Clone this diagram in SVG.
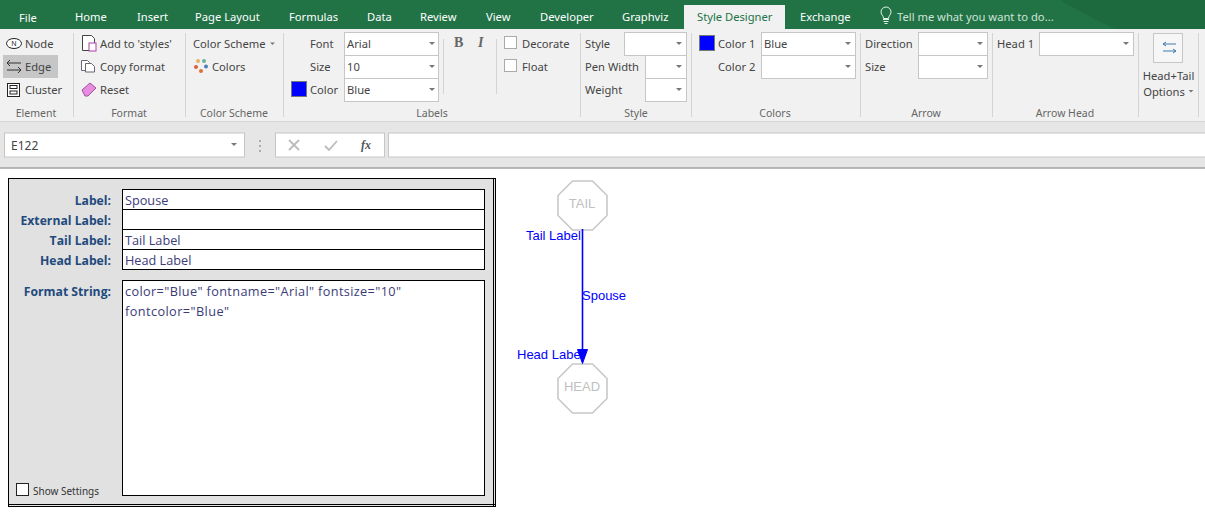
<svg xmlns="http://www.w3.org/2000/svg" width="1205" height="512" viewBox="0 0 1205 512">
<style>
text{font-family:"Noto Sans","Open Sans",sans-serif;font-size:11.2px;fill:#444}
.tab{fill:#fff;font-size:11.2px}
.gl{fill:#666;font-size:10.5px;text-anchor:middle}
.dd{fill:#fff;stroke:#c6c6c6;stroke-width:1}
.div{stroke:#d4d4d4;stroke-width:1;fill:none}
.cb{fill:#fff;stroke:#aaa}
.sw{fill:#00f;stroke:#777}
.box{fill:#fff;stroke:#000;stroke-width:1}
.pl{font-family:"Open Sans","Noto Sans",sans-serif;font-weight:700;font-size:12.200px;fill:#1f4a7d;text-anchor:end}
.pv{font-family:"Open Sans","Noto Sans",sans-serif;font-size:12.700px;fill:#3b3b78}
.gv{font-family:"Liberation Sans",Arial,sans-serif;font-size:13px;fill:#00f}
.nl{font-family:"Liberation Sans",Arial,sans-serif;font-size:13px;fill:#c0c0c0;text-anchor:middle}
.oct{fill:#fff;stroke:#c8c8c8;stroke-width:1.6}
.fx{fill:none;stroke:#bbb;stroke-width:1.8}
</style>
<defs>
<path id="ar" d="M-3 0h6l-3 3z" fill="#777"/>
</defs>
<rect width="1205" height="512" fill="#fff"/>
<g id="title-bar">
<rect width="1205" height="29" fill="#217346"/>
<path d="M1060 0h145v29h-90q-30-14-55-29z" fill="#1d6a3f"/>
<rect x="684" y="5" width="101" height="24" fill="#f1f1f1"/>
<text class="tab" x="19" y="22">File</text>
<text class="tab" x="75" y="21">Home</text>
<text class="tab" x="137" y="21">Insert</text>
<text class="tab" x="195" y="21">Page Layout</text>
<text class="tab" x="289" y="21">Formulas</text>
<text class="tab" x="367" y="21">Data</text>
<text class="tab" x="420" y="21">Review</text>
<text class="tab" x="486" y="21">View</text>
<text class="tab" x="540" y="21">Developer</text>
<text class="tab" x="622" y="21">Graphviz</text>
<text class="tab" x="697" y="21" style="fill:#217346">Style Designer</text>
<text class="tab" x="800" y="21">Exchange</text>
<path d="M883 19.500h6M883.500 21.500h5M884.500 23.500h3M883.500 18.500c0-3-2.500-3.500-2.500-6.500a5 5 0 0 1 10 0c0 3-2.500 3.500-2.500 6.500z" fill="none" stroke="#e6f0ea"/>
<text class="tab" x="897" y="21" style="fill:#cfe3d8">Tell me what you want to do...</text>
</g>
<g id="ribbon">
<rect y="29" width="1205" height="92" fill="#f1f1f1"/>
<path class="div" d="M73.500 33v84M185.500 33v84M283.500 33v84M580.500 33v84M691.500 33v84M860.500 33v84M992.500 33v84M1138.500 33v84M1198.500 33v84M443.500 39v55M496.500 39v55"/>
<rect x="3" y="55" width="55" height="23" fill="#c6c6c6"/>
<ellipse cx="14" cy="43.500" rx="7.500" ry="5" fill="#fff" stroke="#222"/>
<text x="14" y="46" style="font-size:7px;fill:#222" text-anchor="middle">N</text>
<path d="M21 63h-14m3-3l-3 3 3 3M7 70h14m-3-3l3 3-3 3" fill="none" stroke="#333"/>
<rect x="7.500" y="83.500" width="12" height="13" fill="#fff" stroke="#222"/>
<rect x="10" y="85.500" width="7" height="3" fill="none" stroke="#222"/>
<rect x="10" y="91" width="7" height="3" fill="none" stroke="#222"/>
<text x="25" y="48">Node</text>
<text x="25" y="71">Edge</text>
<text x="25" y="94">Cluster</text>
<text class="gl" x="36" y="117">Element</text>
<path d="M82.500 35.500h9l3 3v12h-12z" fill="#fff" stroke="#444"/>
<rect x="89" y="43" width="7" height="8" fill="#fff" stroke="#b23ea8"/>
<path d="M81.500 60.500h6l2 2v8h-8z" fill="#fff" stroke="#667"/>
<path d="M85.500 63.500h6l3 3v5.500h-9z" fill="#fff" stroke="#667"/>
<path d="M82 90l8-7 6 5-8 8h-3z" fill="#e88ce0" stroke="#a050a0"/>
<text x="100" y="48">Add to 'styles'</text>
<text x="100" y="71">Copy format</text>
<text x="100" y="94">Reset</text>
<text class="gl" x="129" y="117">Format</text>
<text x="193" y="48">Color Scheme</text>
<use href="#ar" transform="translate(272.500 42.500) scale(.8)"/>
<circle cx="198" cy="61" r="2" fill="#e8b060"/><circle cx="204" cy="61" r="2" fill="#70b0a0"/><circle cx="196" cy="67" r="2" fill="#d86040"/><circle cx="206" cy="66.500" r="2" fill="#4a80c0"/><circle cx="201" cy="71" r="2" fill="#e07030"/>
<text x="212" y="71">Colors</text>
<text class="gl" x="234" y="117">Color Scheme</text>
<text x="310" y="48">Font</text>
<text x="310" y="71">Size</text>
<text x="310" y="94">Color</text>
<rect class="sw" x="291.500" y="81.500" width="15" height="15"/>
<rect class="dd" x="344.500" y="32.500" width="94" height="23"/>
<rect class="dd" x="344.500" y="55.500" width="94" height="23"/>
<rect class="dd" x="344.500" y="78.500" width="94" height="23"/>
<text x="347" y="48">Arial</text>
<text x="347" y="71">10</text>
<text x="347" y="94">Blue</text>
<use href="#ar" x="432" y="42"/><use href="#ar" x="432" y="65"/><use href="#ar" x="432" y="88"/>
<text x="454" y="47" style="font-family:'Liberation Serif',serif;font-weight:700;font-size:14px;fill:#666">B</text>
<text x="478" y="47" style="font-family:'Liberation Serif',serif;font-style:italic;font-weight:700;font-size:14px;fill:#666">I</text>
<text class="gl" x="432" y="117">Labels</text>
<rect class="cb" x="504.500" y="36.500" width="12" height="12"/>
<rect class="cb" x="504.500" y="59.500" width="12" height="12"/>
<text x="522" y="48">Decorate</text>
<text x="522" y="71">Float</text>
<text x="585" y="48">Style</text>
<text x="585" y="71">Pen Width</text>
<text x="585" y="94">Weight</text>
<rect class="dd" x="624.500" y="32.500" width="62" height="23"/>
<rect class="dd" x="645.500" y="55.500" width="41" height="23"/>
<rect class="dd" x="645.500" y="78.500" width="41" height="23"/>
<use href="#ar" x="679" y="42"/><use href="#ar" x="679" y="65"/><use href="#ar" x="679" y="88"/>
<text class="gl" x="636" y="117">Style</text>
<rect class="sw" x="699.500" y="35.500" width="15" height="15"/>
<text x="718" y="48">Color 1</text>
<text x="718" y="71">Color 2</text>
<rect class="dd" x="761.500" y="32.500" width="94" height="23"/>
<rect class="dd" x="761.500" y="55.500" width="94" height="23"/>
<text x="764" y="48">Blue</text>
<use href="#ar" x="848" y="42"/><use href="#ar" x="848" y="65"/>
<text class="gl" x="775" y="117">Colors</text>
<text x="865" y="48">Direction</text>
<text x="865" y="71">Size</text>
<rect class="dd" x="918.500" y="32.500" width="69" height="23"/>
<rect class="dd" x="918.500" y="55.500" width="69" height="23"/>
<use href="#ar" x="980" y="42"/><use href="#ar" x="980" y="65"/>
<text class="gl" x="926" y="117">Arrow</text>
<text x="997" y="48">Head 1</text>
<rect class="dd" x="1039.500" y="32.500" width="94" height="23"/>
<use href="#ar" x="1126" y="42"/>
<text class="gl" x="1065" y="117">Arrow Head</text>
<rect x="1153.500" y="33.500" width="29" height="29" fill="#f6f6f6" stroke="#c6c6c6"/>
<path d="M1176 44h-13m3-2l-3 2 3 2M1163 51h13m-3-2l3 2-3 2" fill="none" stroke="#3f78b0"/>
<text x="1168.500" y="80" text-anchor="middle">Head+Tail</text>
<text x="1164" y="96" text-anchor="middle">Options</text>
<use href="#ar" transform="translate(1191 90) scale(.8)"/>
</g>
<g id="formula-bar">
<rect y="121" width="1205" height="47" fill="#e6e6e6"/>
<path d="M0 121.500h1205" stroke="#d4d4d4"/>
<path d="M0 168h1205" stroke="#a0a0a0" stroke-width="1.400"/>
<rect x="4.500" y="133" width="240" height="24" fill="#fff" stroke="#c6c6c6"/>
<text x="11" y="150" style="font-size:12px">E122</text>
<use href="#ar" x="234" y="143"/>
<path d="M260 140v2M260 145v2M260 150v2" stroke="#999" stroke-width="1.500"/>
<rect x="275.500" y="133" width="109" height="24" fill="#fff" stroke="#c6c6c6"/>
<path class="fx" d="M289 140l10 10M299 140l-10 10M325 146l4 4 8-9"/>
<text x="361" y="149" style="font-family:'Liberation Serif',serif;font-style:italic;font-weight:700;font-size:12px;fill:#555">fx</text>
<rect x="388.500" y="133" width="830" height="24" fill="#fff" stroke="#c6c6c6"/>
</g>
<g id="settings-panel">
<rect x="8.500" y="178.500" width="487" height="328" fill="#e1e1e1" stroke="#000"/>
<path d="M493.500 179v328M9 504.500h486" stroke="#000" fill="none"/>
<rect class="box" x="122.500" y="189.500" width="362" height="20"/>
<rect class="box" x="122.500" y="209.500" width="362" height="20"/>
<rect class="box" x="122.500" y="229.500" width="362" height="20"/>
<rect class="box" x="122.500" y="249.500" width="362" height="20"/>
<rect class="box" x="122.500" y="280.500" width="362" height="215"/>
<text class="pl" x="111" y="205">Label:</text>
<text class="pl" x="111" y="225">External Label:</text>
<text class="pl" x="111" y="245">Tail Label:</text>
<text class="pl" x="111" y="265">Head Label:</text>
<text class="pl" x="111" y="296">Format String:</text>
<text class="pv" x="125" y="205">Spouse</text>
<text class="pv" x="125" y="245">Tail Label</text>
<text class="pv" x="125" y="265">Head Label</text>
<text class="pv" x="125" y="296" textLength="276">color="Blue" fontname="Arial" fontsize="10"</text>
<text class="pv" x="125" y="316" textLength="104">fontcolor="Blue"</text>
<rect x="16.500" y="483.500" width="12" height="12" fill="#fff" stroke="#222"/>
<text x="33" y="495" style="font-size:10px;fill:#333">Show Settings</text>
</g>
<g id="node-tail">
<path class="oct" d="M572.500 181h20l14.500 14.500v20l-14.500 14.500h-20l-14.500-14.500v-20z"/>
<text class="nl" x="582" y="208">TAIL</text>
</g>
<g id="node-head">
<path class="oct" d="M572.500 364h20l14.500 14.500v20l-14.500 14.500h-20l-14.500-14.500v-20z"/>
<text class="nl" x="582" y="391">HEAD</text>
</g>
<g id="connectors">
<text class="gv" x="526" y="240">Tail Label</text>
<text class="gv" x="582" y="300">Spouse</text>
<text class="gv" x="517" y="359">Head Label</text>
<path d="M582.500 229V350" stroke="#00f" stroke-width="1.600" fill="none"/>
<path d="M577.500 349.500h10l-5 14z" fill="#00f" stroke="#00f"/>
</g>
</svg>
